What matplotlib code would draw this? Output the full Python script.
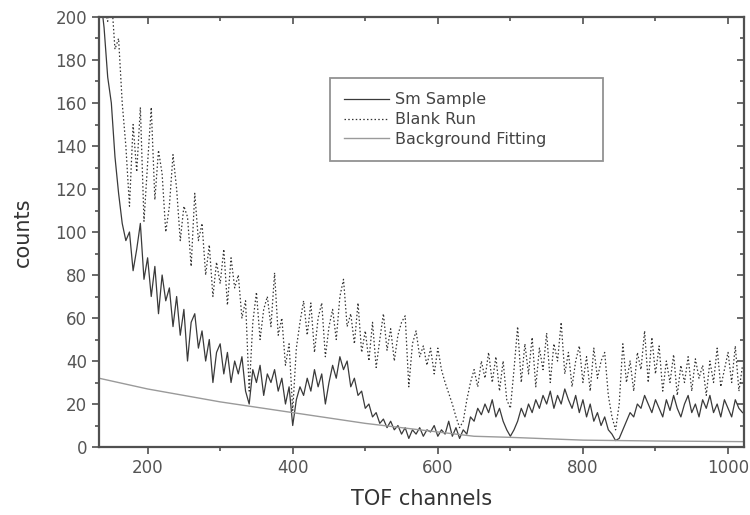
import numpy as np
import matplotlib
matplotlib.use("Agg")
import matplotlib.pyplot as plt
from matplotlib.ticker import MultipleLocator

plt.rcParams['font.family'] = ['DejaVu Sans']

# TOF channels sampled every 5 channels
channels = list(range(135, 1021, 5))

sm_sample = [
    210, 195, 172, 160, 135, 118, 104, 96, 100, 82,      # 135-180
    92, 104, 78, 88, 70, 84, 62, 80, 68, 74,             # 185-230
    56, 70, 52, 64, 40, 58, 62, 46, 54, 40,              # 235-280
    50, 30, 44, 48, 34, 44, 30, 40, 34, 42,              # 285-330
    26, 20, 36, 30, 38, 24, 34, 30, 36, 26,              # 335-380
    32, 20, 28, 10, 22, 28, 24, 32, 26, 36,              # 385-430
    28, 34, 20, 30, 38, 32, 42, 36, 40, 28,              # 435-480
    32, 24, 26, 18, 20, 14, 16, 11, 13, 9,               # 485-530
    12, 8, 10, 6, 9, 4, 8, 6, 9, 5,                      # 535-580
    8, 7, 10, 5, 8, 6, 12, 5, 9, 4,                      # 585-630
    8, 6, 14, 12, 18, 15, 20, 16, 22, 14,                # 635-680
    18, 12, 8, 5, 8, 12, 18, 14, 20, 16,                 # 685-730
    22, 18, 24, 20, 26, 18, 24, 20, 27, 22,              # 735-780
    18, 24, 16, 22, 14, 20, 12, 16, 10, 14,              # 785-830
    8, 6, 3, 4, 8, 12, 16, 14, 20, 18,                   # 835-880
    24, 20, 16, 22, 18, 14, 22, 17, 24, 18,              # 885-930
    14, 20, 24, 16, 20, 14, 22, 18, 24, 16,              # 935-980
    20, 14, 22, 18, 14, 22, 18, 16,                      # 985-1020
]

blank_run = [
    210, 205, 198, 210, 185, 190, 160, 140, 112, 150,    # 135-180
    128, 158, 105, 132, 158, 115, 138, 127, 100, 112,    # 185-230
    136, 120, 96, 112, 107, 84, 118, 96, 104, 80,        # 235-280
    94, 70, 86, 76, 92, 66, 88, 74, 80, 60,              # 285-330
    68, 26, 58, 72, 50, 64, 70, 56, 81, 52,              # 335-380
    60, 38, 48, 17, 46, 58, 68, 52, 67, 44,              # 385-430
    60, 67, 42, 56, 64, 50, 70, 78, 56, 62,              # 435-480
    48, 67, 44, 54, 40, 58, 37, 50, 62, 45,              # 485-530
    55, 40, 52, 58, 61, 28, 48, 54, 42, 47,              # 535-580
    38, 46, 34, 46, 36, 30, 25, 20, 14, 9,               # 585-630
    12, 22, 30, 36, 28, 40, 32, 44, 30, 42,              # 635-680
    26, 40, 22, 18, 36, 56, 30, 48, 34, 51,              # 685-730
    28, 46, 36, 53, 30, 48, 40, 58, 34, 44,              # 735-780
    28, 40, 47, 30, 42, 26, 46, 32, 40, 44,              # 785-830
    24, 14, 8, 20, 48, 30, 40, 26, 44, 36,               # 835-880
    54, 30, 51, 34, 47, 26, 40, 30, 43, 24,              # 885-930
    38, 30, 42, 26, 41, 32, 38, 24, 40, 30,              # 935-980
    46, 28, 36, 44, 30, 47, 26, 38,                      # 985-1020
]

bg_channels = [133, 200, 300, 400, 500, 600, 650, 700, 800, 900, 1022]
bg_fit = [32, 27, 21, 16, 11, 7, 5, 4.5, 3.2, 2.8, 2.5]

fig = plt.figure(figsize=(7.5, 5.15), dpi=100)
ax = fig.add_axes([0.132, 0.132, 0.86, 0.835])

ax.plot(channels, sm_sample, color='#3a3a3a', lw=0.9, label='Sm Sample')
ax.plot(channels, blank_run, color='#333333', lw=0.9, linestyle=(0, (1.2, 1.8)),
        label='Blank Run')
ax.plot(bg_channels, bg_fit, color='#9a9a9a', lw=1.0, label='Background Fitting')

ax.set_xlim(133, 1022)
ax.set_ylim(0, 200)
ax.xaxis.set_major_locator(MultipleLocator(200))
ax.xaxis.set_minor_locator(MultipleLocator(100))
ax.yaxis.set_major_locator(MultipleLocator(20))
ax.yaxis.set_minor_locator(MultipleLocator(10))

spine_c = '#505050'
for s in ax.spines.values():
    s.set_color(spine_c)
    s.set_linewidth(1.6)

ax.tick_params(which='both', direction='out', colors=spine_c, labelcolor='#555555',
               labelsize=12, width=1.2)
ax.tick_params(which='major', length=5)
ax.tick_params(which='minor', length=3)

secx = ax.secondary_xaxis('top')
secx.xaxis.set_major_locator(MultipleLocator(200))
secx.xaxis.set_minor_locator(MultipleLocator(100))
secx.tick_params(which='both', direction='in', labeltop=False, colors=spine_c, width=1.2)
secx.tick_params(which='major', length=5)
secx.tick_params(which='minor', length=3)
secx.spines['top'].set_visible(False)

secy = ax.secondary_yaxis('right')
secy.yaxis.set_major_locator(MultipleLocator(20))
secy.yaxis.set_minor_locator(MultipleLocator(10))
secy.tick_params(which='both', direction='in', labelright=False, colors=spine_c, width=1.2)
secy.tick_params(which='major', length=5)
secy.tick_params(which='minor', length=3)
secy.spines['right'].set_visible(False)

ax.set_xlabel('TOF channels', fontsize=15, color='#333333', labelpad=9)
ax.set_ylabel('counts', fontsize=15, color='#333333', labelpad=16)

# legend box: axes fraction (left, bottom, width, height)
leg = ax.legend(loc='upper left', bbox_to_anchor=(0.358, 0.667, 0.423, 0.191),
                mode='expand', fontsize=11.5,
                frameon=True, fancybox=False, handlelength=2.8, borderpad=0.9,
                labelspacing=0.3, handletextpad=0.4, borderaxespad=0)
leg.get_frame().set_edgecolor('#777777')
leg.get_frame().set_linewidth(1.3)
for t in leg.get_texts():
    t.set_color('#444444')

fig.savefig('out.png', dpi=100)
